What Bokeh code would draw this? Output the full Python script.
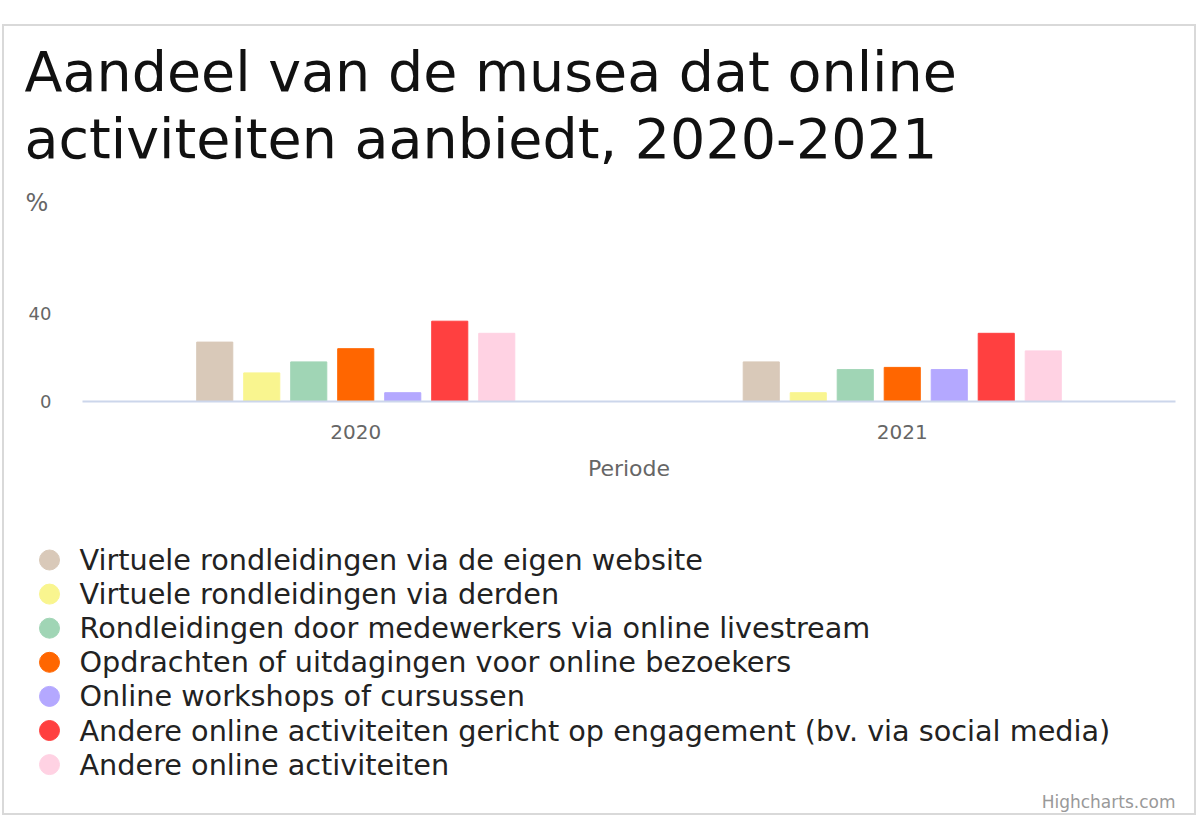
from bokeh.plotting import figure
from bokeh.layouts import column
from bokeh.models import FactorRange, Range1d, FixedTicker, Label, ColumnDataSource
from bokeh.transform import dodge
from bokeh.core.properties import value
from bokeh.embed import file_html
from bokeh.resources import INLINE

# ---- data ----
years = ["2020", "2021"]
series_names = [
    "Virtuele rondleidingen via de eigen website",
    "Virtuele rondleidingen via derden",
    "Rondleidingen door medewerkers via online livestream",
    "Opdrachten of uitdagingen voor online bezoekers",
    "Online workshops of cursussen",
    "Andere online activiteiten gericht op engagement (bv. via social media)",
    "Andere online activiteiten",
]
values_2020 = [27, 13, 18, 24, 4, 36.5, 31]
values_2021 = [18, 4, 14.5, 15.5, 14.5, 31, 23]
colors = ["#D9C9B9", "#F9F58F", "#A0D5B5", "#FF6600", "#B4A8FF", "#FF4040", "#FFD2E3"]
y_ticks = [0, 40]

title_line1 = "Aandeel van de musea dat online"
title_line2 = "activiteiten aanbiedt, 2020-2021"
y_title = "%"
x_title = "Periode"
credit = "Highcharts.com"

FONT = "DejaVu Sans"
OX, OY = 4, 26            # page position of content (inside the grey border)
CW = 1190                 # content width
TOP_H, CHART_H, BOT_H = 264, 210, 313
BASE_FIX = 0.36           # baseline correction (fraction of font size)


def blank_fig(h, x_range=None, y_range=None):
    f = figure(width=CW, height=h,
               x_range=x_range or Range1d(0, CW), y_range=y_range or Range1d(0, h),
               x_axis_location=None, y_axis_location=None,
               output_backend="svg", toolbar_location=None,
               min_border_left=0, min_border_right=0,
               min_border_top=0, min_border_bottom=0, frame_align=False)
    f.outline_line_color = None
    f.grid.visible = False
    f.background_fill_color = "white"
    f.border_fill_color = "white"
    return f


def text_label(fig_h, fig_top, text, x_page, y_page, size_px, color, align="left"):
    y_page = y_page - BASE_FIX * size_px
    return Label(x=x_page - OX, y=fig_h - (y_page - fig_top), x_units="screen", y_units="screen",
                 text=text, text_font=FONT, text_font_size=f"{size_px}px", text_color=color,
                 text_baseline="alphabetic", text_align=align)


# ---- top: title and unit ----
top = blank_fig(TOP_H)
top.add_layout(text_label(TOP_H, OY, title_line1, 24, 90.7, 55.5, "#111111"))
top.add_layout(text_label(TOP_H, OY, title_line2, 24, 158, 55.5, "#111111"))
top.add_layout(text_label(TOP_H, OY, y_title, 25, 211.5, 24, "#666666"))

# ---- chart ----
CHART_TOP = OY + TOP_H
FL, FT, FR, FB = 82, 313, 1175, 401   # plot frame edges in page px
p = figure(
    width=CW, height=CHART_H,
    x_range=FactorRange(*years, range_padding=0),
    y_range=Range1d(0, 40),
    output_backend="svg", toolbar_location=None,
    min_border_left=FL - OX, min_border_right=OX + CW - FR,
    min_border_top=FT - CHART_TOP, min_border_bottom=CHART_TOP + CHART_H - FB,
    frame_align=False,
)
p.outline_line_color = None
p.background_fill_color = "white"
p.border_fill_color = "white"
p.xgrid.grid_line_color = None
p.ygrid.grid_line_color = "#e6e6e6"
p.ygrid.grid_line_width = 1
p.yaxis.ticker = FixedTicker(ticks=y_ticks)
p.yaxis.axis_line_color = None
p.yaxis.major_tick_line_color = None
p.yaxis.minor_tick_line_color = None
p.yaxis.major_label_text_font = FONT
p.yaxis.major_label_text_font_size = "18px"
p.yaxis.major_label_text_color = "#666666"
p.yaxis.major_label_standoff = 25
p.xaxis.axis_line_color = "#ccd6eb"
p.xaxis.axis_line_width = 2
p.xaxis.major_tick_line_color = None
p.xaxis.minor_tick_line_color = None
p.xaxis.major_label_text_font = FONT
p.xaxis.major_label_text_font_size = "20px"
p.xaxis.major_label_text_color = "#666666"
p.xaxis.major_label_standoff = 17
p.xaxis.axis_label = x_title
p.xaxis.axis_label_text_font = FONT
p.xaxis.axis_label_text_font_size = "22px"
p.xaxis.axis_label_text_font_style = "normal"
p.xaxis.axis_label_text_color = "#666666"
p.xaxis.axis_label_standoff = 14

n = len(series_names)
step = 0.086
bar_w = 0.066
for i, c in enumerate(colors):
    src = ColumnDataSource(dict(year=years, val=[values_2020[i], values_2021[i]]))
    p.vbar(x=dodge("year", (i - (n - 1) / 2) * step, range=p.x_range), top="val",
           width=bar_w, source=src, fill_color=c, line_color=c, line_width=1)

# ---- bottom: legend (one row per series) and credit ----
BOT_TOP = CHART_TOP + CHART_H
ROW0, PITCH = 559.5 - BOT_TOP, 34.1          # first row centre (canvas px) and row pitch
bot = blank_fig(BOT_H, y_range=Range1d((BOT_H - ROW0) / PITCH, -ROW0 / PITCH))
rows = list(range(n))
leg_src = ColumnDataSource(dict(row=rows, name=series_names, color=colors,
                                mx=[49 - OX] * n, tx=[79 - OX] * n))
bot.scatter(x="mx", y="row", source=leg_src, marker="circle", size=20,
            fill_color="color", line_color="color")
bot.text(x="tx", y="row", text="name", source=leg_src, text_baseline="middle",
         text_font=value(FONT), text_font_size="28.7px", text_color="#222222")
bot.add_layout(text_label(BOT_H, BOT_TOP, credit, 1175, 808, 17, "#999999", "right"))

layout = column(top, p, bot, spacing=0, margin=(24, 0, 0, 2),
                styles={"border": "2px solid #d9d9d9"})

open("out.html", "w").write(file_html(layout, INLINE))
